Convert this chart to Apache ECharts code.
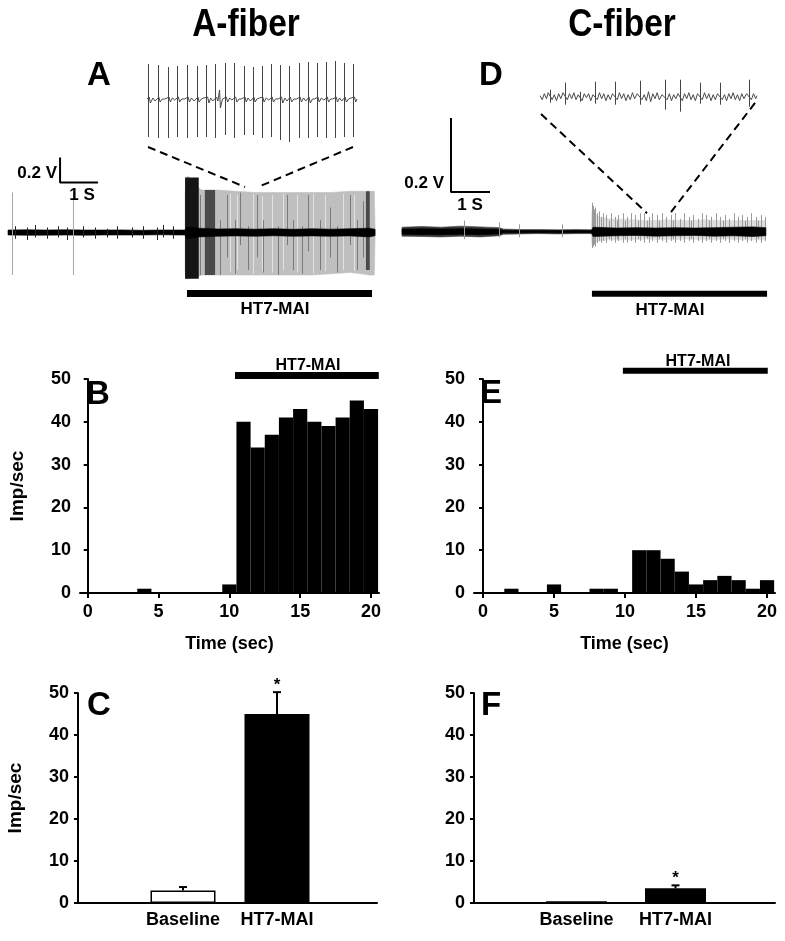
<!DOCTYPE html>
<html><head><meta charset="utf-8">
<script src="https://cdn.jsdelivr.net/npm/echarts@6/dist/echarts.min.js"></script>
<style>html,body{margin:0;padding:0;background:#fff}#c{width:785px;height:941px}</style>
</head><body><div id="c"></div>
<script>
// ================= DATA =================
// Histograms (1-s bins), Imp/sec
const histTime = [0,1,2,3,4,5,6,7,8,9,10,11,12,13,14,15,16,17,18,19,20];
const histAfiber = [0,0,0,0,1,0,0,0,0,0,2,40,34,37,41,43,40,39,41,45,43];
const histCfiber = [0,0,1,0,0,2,0,0,1,1,0,10,10,8,5,2,3,4,3,1,3];
const histTicks = [0,5,10,15,20];
const stimHistA = [10.4, 20.55];
const stimHistC = [9.85, 20.05];

// Summary bars
const sumCats = ['Baseline','HT7-MAI'];
const sumAfiber = [3, 45];
const sumAfiberErr = [0.8, 5.2];
const sumCfiber = [0.4, 3.5];
const sumCfiberErr = [0, 0.7];
const sumSig = ['', '*'];

// Trace A (time s, volts)
const aCoreT  = [0,0.5,1.0,1.5,2.0,2.5,3.0,3.5,4.0,4.5,4.66,4.7,5.0,5.5,6.0,6.5,7.0,7.5,8.0,8.5,9.0,9.5,9.66];
const aCoreHi = [0.02,0.022,0.02,0.022,0.02,0.02,0.021,0.018,0.02,0.02,0.02,0.045,0.035,0.028,0.03,0.027,0.03,0.026,0.03,0.027,0.03,0.035,0.026];
const aCoreLo = [-0.02,-0.022,-0.021,-0.02,-0.022,-0.02,-0.02,-0.02,-0.018,-0.02,-0.02,-0.05,-0.035,-0.03,-0.027,-0.03,-0.026,-0.03,-0.027,-0.03,-0.027,-0.035,-0.026];
const aEnvT  = [4.66,4.68,4.75,4.85,5.0,5.1,5.5,6.0,6.5,7.0,7.5,8.0,8.5,9.0,9.3,9.5,9.64,9.66];
const aEnvHi = [0.3,0.44,0.45,0.40,0.36,0.34,0.34,0.33,0.32,0.32,0.32,0.32,0.32,0.33,0.33,0.33,0.33,0.02];
const aEnvLo = [-0.3,-0.37,-0.37,-0.36,-0.35,-0.34,-0.34,-0.34,-0.34,-0.34,-0.34,-0.34,-0.33,-0.32,-0.33,-0.34,-0.34,-0.02];
const aBurstBlack = [[4.66,5.02,0.44,-0.37]];
const aBurstDark = [[5.18,5.45,0.34,-0.34],[9.42,9.52,0.33,-0.30]];
const aSpkT  = [5.05,5.23,5.58,5.76,5.97,6.11,6.32,6.54,6.72,7.11,7.33,7.51,7.73,7.90,8.21,8.47,8.65,9.0,9.18,9.35];
const aSpkHi = [0.3,0.2,0.1,0.3,0.1,0.32,0.05,0.3,0.1,0.05,0.3,0.1,0.05,0.3,0.1,0.2,0.05,0.3,0.1,0.25];
const aSpkLo = [-0.34,-0.3,-0.34,-0.2,-0.33,-0.1,-0.3,-0.2,-0.32,-0.34,-0.1,-0.3,-0.33,-0.15,-0.3,-0.2,-0.32,-0.1,-0.3,-0.2];
const aGapT  = [5.84,6.02,6.46,6.68,6.94,7.25,7.6,8.03,8.34,8.82,9.1];
const aGapHi = [0.31,0.3,0.31,0.29,0.3,0.31,0.3,0.31,0.3,0.31,0.3];
const aGapLo = [-0.32,-0.3,-0.33,-0.31,-0.32,-0.3,-0.32,-0.33,-0.31,-0.3,-0.31];
const aIsoT  = [0.1, 1.71];
const aIsoHi = [0.32, 0.32];
const aIsoLo = [-0.34, -0.34];
const aSmallT  = [0.18,0.49,0.71,1.02,1.32,1.54,1.98,2.29,2.60,2.86,3.26,3.56,3.91,4.09,4.35];
const aSmallHi = [0.05,0.04,0.06,0.04,0.05,0.04,0.05,0.04,0.03,0.05,0.04,0.05,0.04,0.06,0.05];
const aSmallLo = [-0.05,-0.06,-0.04,-0.05,-0.04,-0.06,-0.04,-0.05,-0.04,-0.05,-0.04,-0.05,-0.06,-0.04,-0.05];

// Inset A (ms, arbitrary V)
const insAT  = [3,25,49,71,94,117,140,161,184,206,228,249,270,292,314,335,358,379,400,422,443,464,486];
const insAHi = [0.36,0.35,0.33,0.34,0.35,0.34,0.35,0.36,0.37,0.37,0.34,0.33,0.34,0.36,0.35,0.34,0.37,0.38,0.37,0.38,0.39,0.37,0.36];
const insALo = [-0.37,-0.38,-0.38,-0.37,-0.38,-0.37,-0.37,-0.38,-0.35,-0.38,-0.35,-0.35,-0.38,-0.37,-0.40,-0.42,-0.38,-0.38,-0.37,-0.38,-0.38,-0.37,-0.37];
const insANoise = [[0,0.01],[5,0.03],[8,-0.03],[14,0.02],[19,-0.01],[28,0.03],[31,-0.02],[36,0.01],[42,0.01],[52,0.03],[55,-0.02],[60,0.02],[65,0],
 [74,0.03],[77,-0.02],[82,0.01],[88,0.01],[97,0.03],[100,-0.02],[105,0.02],[111,-0.01],[120,0.03],[123,-0.02],[128,0.01],[134,0.02],[143,0.03],[146,-0.03],
 [150,0.02],[155,-0.01],[164,0.03],[167,-0.01],[171,0.1],[173,-0.08],[178,0.01],[187,0.03],[190,-0.02],[195,0.02],[200,0],[209,0.03],[212,-0.02],
 [217,0.01],[222,0.01],[231,0.03],[234,-0.02],[238,0.02],[244,-0.01],[252,0.03],[255,-0.02],[259,0.01],[265,0.02],[273,0.03],[276,-0.02],[281,0.02],
 [287,0],[295,0.03],[298,-0.02],[303,0.01],[309,0.01],[317,0.03],[320,-0.03],[325,0.02],[330,-0.01],[338,0.03],[341,-0.02],[346,0.01],[352,0.01],
 [361,0.03],[364,-0.02],[369,0.02],[374,-0.01],[382,0.03],[385,-0.03],[390,0.01],[395,0.01],[403,0.03],[406,-0.02],[411,0.02],[417,0],[425,0.03],
 [428,-0.02],[433,0.01],[438,0.01],[446,0.03],[449,-0.02],[454,0.02],[459,-0.01],[467,0.03],[470,-0.02],[475,0.01],[481,0.02],[489,0.03],[492,-0.02],[495,0.01]];

// Trace D (time s, volts)
const dFuzzT  = [0,0.5,1.0,1.5,2.0,2.5,2.6,3.0,3.5,4.0,4.5,4.85];
const dFuzzHi = [0.012,0.014,0.012,0.015,0.013,0.011,0.007,0.006,0.006,0.005,0.006,0.005];
const dFuzzLo = [-0.012,-0.013,-0.014,-0.012,-0.014,-0.011,-0.007,-0.006,-0.005,-0.006,-0.005,-0.005];
const dCoreT  = [0,0.5,1.0,1.5,2.0,2.5,2.6,3.0,3.5,4.0,4.5,4.85,4.9,5.5,6.0,6.5,7.0,7.5,8.0,8.5,9.0,9.33];
const dCoreHi = [0.007,0.008,0.007,0.008,0.007,0.006,0.003,0.003,0.003,0.003,0.003,0.003,0.012,0.01,0.011,0.01,0.011,0.01,0.011,0.012,0.013,0.011];
const dCoreLo = [-0.007,-0.008,-0.008,-0.007,-0.008,-0.006,-0.003,-0.003,-0.003,-0.003,-0.003,-0.003,-0.013,-0.011,-0.01,-0.012,-0.011,-0.01,-0.012,-0.011,-0.013,-0.011];
const dEnvT  = [4.85,4.87,4.95,5.05,5.3,5.8,6.3,6.8,7.3,7.8,8.3,8.8,9.2,9.31,9.33];
const dEnvHi = [0.02,0.06,0.05,0.04,0.035,0.033,0.03,0.032,0.03,0.032,0.03,0.03,0.03,0.03,0.01];
const dEnvLo = [-0.02,-0.035,-0.03,-0.025,-0.022,-0.022,-0.02,-0.022,-0.02,-0.022,-0.02,-0.022,-0.022,-0.022,-0.01];
const dSpkT  = [4.88,4.90,4.93,4.96,5.01,5.05,5.10,5.15,5.24,5.30,5.36,5.45,5.50,5.55,5.66,5.72,5.78,5.87,5.98,6.04,6.10,6.20,6.27,6.33,6.42,6.55,6.60,6.66,6.78,6.90,6.96,7.01,7.13,7.22,7.35,7.41,7.47,7.58,7.70,7.80,7.86,7.93,8.04,8.15,8.22,8.28,8.38,8.50,8.62,8.73,8.79,8.85,8.96,9.08,9.14,9.20,9.30];
const dSpkHi = [0.078,0.07,0.06,0.065,0.05,0.055,0.04,0.05,0.045,0.03,0.05,0.04,0.03,0.045,0.05,0.03,0.04,0.05,0.045,0.03,0.05,0.05,0.03,0.04,0.05,0.045,0.03,0.05,0.04,0.045,0.03,0.05,0.035,0.05,0.04,0.03,0.045,0.035,0.05,0.045,0.03,0.04,0.05,0.04,0.03,0.045,0.035,0.05,0.04,0.045,0.03,0.04,0.05,0.04,0.03,0.045,0.04];
const dSpkLo = [-0.044,-0.04,-0.035,-0.04,-0.03,-0.025,-0.03,-0.025,-0.03,-0.02,-0.025,-0.03,-0.02,-0.025,-0.03,-0.02,-0.03,-0.025,-0.03,-0.02,-0.025,-0.03,-0.02,-0.03,-0.025,-0.03,-0.02,-0.025,-0.03,-0.025,-0.02,-0.03,-0.025,-0.03,-0.025,-0.02,-0.03,-0.025,-0.03,-0.025,-0.02,-0.03,-0.025,-0.03,-0.02,-0.025,-0.03,-0.025,-0.03,-0.025,-0.02,-0.03,-0.025,-0.03,-0.02,-0.03,-0.025];
const dSmallT  = [1.58,2.48,2.99,4.1];
const dSmallHi = [0.03,0.025,0.02,0.02];
const dSmallLo = [-0.02,-0.015,-0.015,-0.015];

// Inset D (ms, arbitrary V)
const insDT  = [23,58,92,127,173,230,288,323,369,415,482];
const insDHi = [0.07,0.14,0.05,0.15,0.15,0.16,0.17,0.17,0.14,0.14,0.17];
const insDLo = [-0.06,-0.08,-0.05,-0.07,-0.08,-0.08,-0.13,-0.15,-0.07,-0.08,-0.10];
const insDNoise = [[0,0.01],[5,-0.03],[10,0.03],[15,-0.02],[19,0.04],[28,-0.03],[33,0.02],[38,-0.04],[43,0.03],[48,-0.02],
 [53,0.04],[63,-0.03],[68,0.03],[73,-0.02],[78,0.04],[83,-0.03],[88,0.02],[97,-0.04],[102,0.03],[107,-0.01],
 [112,0.03],[117,-0.04],[122,0.02],[132,-0.03],[137,0.04],[142,-0.02],[147,0.03],[152,-0.04],[157,0.02],[162,-0.03],
 [167,0.03],[178,-0.03],[183,0.04],[188,-0.02],[193,0.03],[198,-0.04],[203,0.02],[208,-0.03],[213,0.04],[218,-0.02],
 [224,0.03],[235,-0.03],[240,0.02],[245,-0.04],[250,0.05],[255,-0.05],[260,0.03],[265,-0.02],[270,0.04],[275,-0.03],
 [281,0.02],[293,-0.03],[298,0.03],[303,-0.04],[308,0.02],[313,-0.02],[318,0.03],[328,-0.04],[333,0.03],[338,-0.02],
 [343,0.04],[348,-0.03],[353,0.02],[358,-0.04],[363,0.03],[374,-0.03],[379,0.04],[384,-0.02],[389,0.03],[394,-0.04],
 [399,0.02],[404,-0.03],[409,0.03],[420,-0.03],[425,0.02],[430,-0.04],[435,0.03],[440,-0.02],[445,0.04],[450,-0.03],
 [455,0.02],[460,-0.04],[465,0.03],[470,-0.02],[476,0.03],[487,-0.03],[492,0.03],[497,-0.02],[500,0.01]];

// ================= CHART =================
const FONT = '"Liberation Sans", Arial, Helvetica, sans-serif';
const chart = echarts.init(document.getElementById('c'), null, {renderer:'canvas'});

function cs(xi, extra){ return Object.assign({type:'custom', coordinateSystem:'cartesian2d', xAxisIndex:xi, yAxisIndex:xi, silent:true, animation:false}, extra); }
function bandSeries(xi, T, Hi, Lo, color, z){
  return cs(xi, {z:z, data:[[T[0],0]], encode:{x:0,y:1}, renderItem:function(p, api){
    const pts=[];
    for(let i=0;i<T.length;i++) pts.push(api.coord([T[i],Hi[i]]));
    for(let i=T.length-1;i>=0;i--) pts.push(api.coord([T[i],Lo[i]]));
    return {type:'polygon', shape:{points:pts}, style:{fill:color, stroke:color, lineWidth:0.6}};
  }});
}
function spikeSeries(xi, T, Hi, Lo, color, w, z){
  return cs(xi, {z:z, data:T.map((t,i)=>[t,Hi[i],Lo[i]]), encode:{x:0,y:[1,2]}, renderItem:function(p, api){
    const a=api.coord([api.value(0),api.value(1)]), b=api.coord([api.value(0),api.value(2)]);
    const x=Math.round(a[0])+0.5;
    return {type:'line', shape:{x1:x,y1:a[1],x2:x,y2:b[1]}, style:{stroke:color, lineWidth:w}};
  }});
}
function rectSeries(xi, R, color, z){
  return cs(xi, {z:z, data:R, encode:{x:[0,1],y:[2,3]}, renderItem:function(p, api){
    const a=api.coord([api.value(0),api.value(2)]), b=api.coord([api.value(1),api.value(3)]);
    return {type:'rect', shape:{x:a[0],y:a[1],width:b[0]-a[0],height:b[1]-a[1]}, style:{fill:color}};
  }});
}
function histSeries(xi, T, V){
  return cs(xi, {z:3, data:T.map((t,i)=>[t,V[i]]), encode:{x:0,y:1}, renderItem:function(p, api){
    const t=api.value(0), v=api.value(1);
    if(!v) return {type:'group', children:[]};
    const a=api.coord([t-0.5,v]), b=api.coord([t+0.5,0]);
    return {type:'rect', shape:{x:a[0],y:a[1],width:b[0]-a[0],height:b[1]-a[1]}, style:{fill:'#000'}};
  }});
}
function errSeries(xi, vals, errs, sig){
  return cs(xi, {z:5, data:vals.map((v,i)=>[i,v,errs[i]]), encode:{x:0,y:1}, renderItem:function(p, api){
    const i=api.value(0), v=api.value(1), e=api.value(2);
    const base=api.coord([i,v]), top=api.coord([i,v+e]);
    const ch=[];
    if(e>0){
      ch.push({type:'line', shape:{x1:base[0],y1:base[1],x2:top[0],y2:top[1]}, style:{stroke:'#000',lineWidth:2}});
      ch.push({type:'line', shape:{x1:top[0]-4,y1:top[1],x2:top[0]+4,y2:top[1]}, style:{stroke:'#000',lineWidth:2}});
    }
    if(sig[p.dataIndex]) ch.push({type:'text', style:{text:sig[p.dataIndex], x:top[0], y:top[1]-7, align:'center', verticalAlign:'middle', font:'bold 17px '+FONT, fill:'#000'}});
    return {type:'group', children:ch};
  }});
}
function noiseLine(xi, pts, color){
  return {type:'line', xAxisIndex:xi, yAxisIndex:xi, data:pts, symbol:'none', silent:true, animation:false,
    lineStyle:{color:color, width:1}, z:3};
}
function polyLine(xi, pts, width, dashed, color, z){
  return {type:'line', xAxisIndex:xi, yAxisIndex:xi, data:pts, symbol:'none', silent:true, animation:false, clip:false, z:z||4,
    lineStyle:{color:color||'#000', width:width, type: dashed ? [8,5] : 'solid', cap:'butt'}};
}

const hiddenAxis = (min,max)=>({type:'value', min:min, max:max, show:false, splitLine:{show:false}});
const axisLineStyle = {show:true, lineStyle:{color:'#000', width:2}};
const labelStyle = {color:'#000', fontFamily:FONT, fontWeight:'bold', fontSize:18};

function histX(gi, min, max, name){
  return {type:'value', gridIndex:gi, min:min, max:max, splitLine:{show:false},
    axisLine:Object.assign({onZero:false}, axisLineStyle),
    axisTick:{show:true, length:5, lineStyle:{color:'#000', width:2}, customValues:histTicks},
    axisLabel:Object.assign({margin:10, customValues:histTicks}, labelStyle),
    name:name, nameLocation:'middle', nameGap:42, nameTextStyle:Object.assign({}, labelStyle)};
}
function yVal(gi, name){
  return {type:'value', gridIndex:gi, min:0, max:50, interval:10, splitLine:{show:false},
    axisLine:axisLineStyle, axisTick:{show:true, length:4, lineStyle:{color:'#000', width:2}},
    axisLabel:Object.assign({margin:9}, labelStyle),
    name:name||'', nameLocation:'middle', nameGap:53, nameRotate:90, nameTextStyle:Object.assign({}, labelStyle, {fontSize:19})};
}
function catX(gi){
  return {type:'category', gridIndex:gi, data:sumCats, axisLine:{show:false}, axisTick:{show:false},
    axisLabel:Object.assign({margin:8, interval:0}, labelStyle)};
}

const option = {
  backgroundColor:'#fff',
  animation:false,
  grid:[
    {left:8, top:45, width:367, height:262.5},
    {left:147, top:50, width:210, height:100},
    {left:402, top:46.7, width:364, height:259},
    {left:540, top:46.7, width:217, height:100},
    {left:80, top:379, width:299, height:214},
    {left:474, top:379, width:301, height:214},
    {left:78, top:693, width:299, height:210},
    {left:136, top:693, width:188, height:210},
    {left:474, top:693, width:301, height:210},
    {left:527, top:693, width:198, height:210}
  ],
  xAxis:[
    Object.assign(hiddenAxis(0,9.658),{gridIndex:0}),
    Object.assign(hiddenAxis(0,495),{gridIndex:1}),
    Object.assign(hiddenAxis(0,9.333),{gridIndex:2}),
    Object.assign(hiddenAxis(0,500),{gridIndex:3}),
    histX(4, -0.544, 20.565, 'Time (sec)'),
    histX(5, -0.634, 20.56, 'Time (sec)'),
    {type:'value', gridIndex:6, min:0, max:1, axisLine:axisLineStyle, axisTick:{show:false}, axisLabel:{show:false}, splitLine:{show:false}},
    catX(7),
    {type:'value', gridIndex:8, min:0, max:1, axisLine:axisLineStyle, axisTick:{show:false}, axisLabel:{show:false}, splitLine:{show:false}},
    catX(9)
  ],
  yAxis:[
    Object.assign(hiddenAxis(-0.6,1.5),{gridIndex:0}),
    Object.assign(hiddenAxis(-0.5,0.5),{gridIndex:1}),
    Object.assign(hiddenAxis(-0.2,0.5),{gridIndex:2}),
    Object.assign(hiddenAxis(-0.5,0.5),{gridIndex:3}),
    yVal(4,'Imp/sec'),
    yVal(5,''),
    yVal(6,'Imp/sec'),
    Object.assign(hiddenAxis(0,50),{gridIndex:7}),
    yVal(8,''),
    Object.assign(hiddenAxis(0,50),{gridIndex:9})
  ],
  series:[
    // ---- trace A ----
    bandSeries(0, aEnvT, aEnvHi, aEnvLo, '#bfbfbf', 2),
    spikeSeries(0, aGapT, aGapHi, aGapLo, '#e2e2e2', 1, 3),
    spikeSeries(0, aSpkT, aSpkHi, aSpkLo, '#7a7a7a', 1, 3),
    rectSeries(0, aBurstDark, '#4a4a4a', 3),
    rectSeries(0, aBurstBlack, '#151515', 3),
    bandSeries(0, aCoreT, aCoreHi, aCoreLo, '#000', 4),
    spikeSeries(0, aSmallT, aSmallHi, aSmallLo, '#222', 1, 4),
    spikeSeries(0, aIsoT, aIsoHi, aIsoLo, '#a8a8a8', 1, 4),
    polyLine(0, [[1.37,0.6],[1.37,0.4],[2.37,0.4]], 2, false),
    polyLine(0, [[4.71,-0.488],[9.58,-0.488]], 7, false),
    polyLine(0, [[3.684,0.684],[6.237,0.364]], 2, true),
    polyLine(0, [[9.079,0.684],[6.579,0.364]], 2, true),
    noiseLine(1, insANoise, '#4a4a4a'),
    spikeSeries(1, insAT, insAHi, insALo, '#444', 1, 3),
    // ---- trace D ----
    bandSeries(2, dEnvT, dEnvHi, dEnvLo, '#dedede', 2),
    spikeSeries(2, dSpkT, dSpkHi, dSpkLo, '#9a9a9a', 1, 3),
    bandSeries(2, dFuzzT, dFuzzHi, dFuzzLo, '#3a3a3a', 3),
    bandSeries(2, dCoreT, dCoreHi, dCoreLo, '#000', 4),
    spikeSeries(2, dSmallT, dSmallHi, dSmallLo, '#9a9a9a', 1, 4),
    polyLine(2, [[1.256,0.307],[1.256,0.107],[2.256,0.107]], 2, false),
    polyLine(2, [[4.87,-0.168],[9.36,-0.168]], 6, false),
    polyLine(2, [[3.564,0.318],[6.282,0.05]], 2, true),
    polyLine(2, [[9.051,0.348],[6.897,0.053]], 2, true),
    noiseLine(3, insDNoise, '#4a4a4a'),
    spikeSeries(3, insDT, insDHi, insDLo, '#444', 1, 3),
    // ---- histograms ----
    histSeries(4, histTime, histAfiber),
    polyLine(4, [[stimHistA[0],50.8],[stimHistA[1],50.8]], 7, false),
    histSeries(5, histTime, histCfiber),
    polyLine(5, [[stimHistC[0],51.9],[stimHistC[1],51.9]], 6, false),
    // ---- summary bars ----
    {type:'bar', xAxisIndex:7, yAxisIndex:7, barWidth:65, animation:false, silent:true, z:3,
      data:sumAfiber.map((v,i)=>({value:v, itemStyle: i===0 ? {color:'#fff', borderColor:'#000', borderWidth:1.5} : {color:'#000'}}))},
    errSeries(7, sumAfiber, sumAfiberErr, sumSig),
    {type:'bar', xAxisIndex:9, yAxisIndex:9, barWidth:61, animation:false, silent:true, z:3,
      data:sumCfiber.map((v,i)=>({value:v, itemStyle: i===0 ? {color:'#fff', borderColor:'#000', borderWidth:1.5} : {color:'#000'}}))},
    errSeries(9, sumCfiber, sumCfiberErr, sumSig)
  ],
  graphic:[]
};

function txt(s, x, y, size, align, extra){
  return Object.assign({type:'text', x:x, y:y, silent:true, z:100,
    style:{text:s, x:0, y:0, font:'bold '+size+'px '+FONT, fill:'#000', textAlign:align||'center', textVerticalAlign:'middle', align:align||'center', verticalAlign:'middle'}}, extra||{});
}
option.graphic = [
  txt('A-fiber', 246, 26, 38, 'center', {scaleX:0.88}),
  txt('C-fiber', 622, 26, 38, 'center', {scaleX:0.88}),
  txt('A', 99, 76, 33), txt('D', 491, 76, 33),
  txt('B', 98, 395, 33), txt('E', 491, 394, 33),
  txt('C', 99, 706, 33), txt('F', 491, 706, 33),
  txt('0.2 V', 57, 173, 17, 'right'), txt('1 S', 82, 195, 17),
  txt('0.2 V', 444, 183, 17, 'right'), txt('1 S', 470, 205, 17),
  txt('HT7-MAI', 275, 309, 17), txt('HT7-MAI', 670, 310, 17),
  txt('HT7-MAI', 308, 366, 16), txt('HT7-MAI', 698, 362, 16)
];
chart.setOption(option);
</script></body></html>
